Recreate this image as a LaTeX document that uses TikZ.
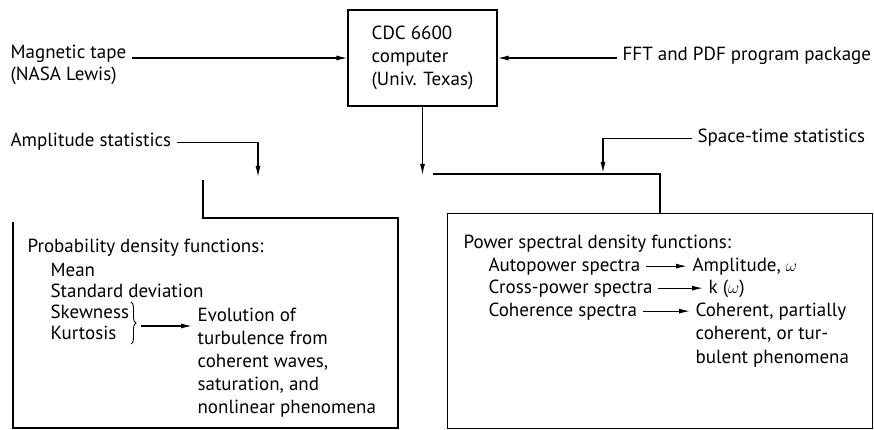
\documentclass[tikz,border=0pt]{standalone}
\usepackage{fontspec}
\setmainfont{PT Sans}
\usetikzlibrary{arrows.meta,decorations.pathreplacing}

\begin{document}
\begin{tikzpicture}[x=1pt,y=-1pt,>={Latex[length=11pt,width=5pt]},line width=1.2pt,
    lbl/.style={anchor=base west,align=left,inner xsep=5pt,inner ysep=0pt,font=\fontsize{19}{22}\selectfont}]
    \useasboundingbox (0,0) rectangle (874,430);
    % computer and its inputs
    \node[draw,minimum width=149pt,minimum height=96pt,align=left,font=\fontsize{19}{23}\selectfont] (comp) at (422.5,58) {CDC 6600\\computer\\(Univ. Texas)};
    \node[lbl] (tape) at (5,81) {Magnetic tape\\(NASA Lewis)};
    \node[lbl] (fft) at (617,61) {FFT and PDF program package};
    \draw[->] (tape.east |- comp.west) -- (comp.west);
    \draw[->] (fft.west |- comp.east) -- (comp.east);
    % statistics inputs
    \node[lbl] (amp) at (5,147) {Amplitude statistics};
    \node[lbl] (spt) at (692,143) {Space-time statistics};
    \coordinate (ampin) at (258,177);
    \coordinate (sptin) at (603,173);
    \coordinate (cmpin) at (422.5,175);
    \draw[->] (amp.east) -| (ampin);
    \draw[->] (spt.west) -| (sptin);
    \draw[->] (comp) -- (cmpin);
    % branch to the right box
    \coordinate (brL) at (433,174);
    \coordinate (brR) at (660,174);
    \node[draw,anchor=north west,minimum width=425pt,minimum height=215pt,inner sep=0pt] (psdbox) at (447,213) {};
    \draw (brL) -- (brR) -- (brR |- psdbox.north);
    % left box, open at its top left
    \draw (203,180) -- (203,218) -- (398,218) -- (398,428) -- (13,428) -- (13,222);
    % left box text
    \node[lbl] (pdfh) at (22,252) {Probability density functions:};
    \node[lbl,font=\fontsize{19}{21}\selectfont] (moments) at (45,339) {Mean\\Standard deviation\\Skewness\\Kurtosis};
    \draw[line width=0.9pt,decorate,decoration={brace,amplitude=5pt}] (131,302) -- (131,344);
    \coordinate (brtip) at (141,326);
    \node[lbl,font=\fontsize{19}{23}\selectfont] (evol) at (192,413) {Evolution of\\turbulence from\\coherent waves,\\saturation, and\\nonlinear phenomena};
    \draw[->] (brtip) -- (brtip -| evol.west);
    % right box text
    \node[lbl] (psdh) at (458,248) {Power spectral density functions:};
    \node[lbl] (auto) at (483,271) {Autopower spectra};
    \node[lbl] (autor) at (687,271) {Amplitude, $\omega$};
    \node[lbl] (cross) at (483,293) {Cross-power spectra};
    \node[lbl] (crossr) at (703,293) {k ($\omega$)};
    \node[lbl] (coh) at (483,316) {Coherence spectra};
    \node[lbl,font=\fontsize{19}{23.5}\selectfont] (cohr) at (690,363) {Coherent, partially\\coherent, or tur-\\bulent phenomena};
    \draw[->] (auto.east) -- (auto.east -| autor.west);
    \draw[->] (cross.east) -- (cross.east -| crossr.west);
    \draw[->] (coh.east) -- (coh.east -| cohr.west);
\end{tikzpicture}
\end{document}
